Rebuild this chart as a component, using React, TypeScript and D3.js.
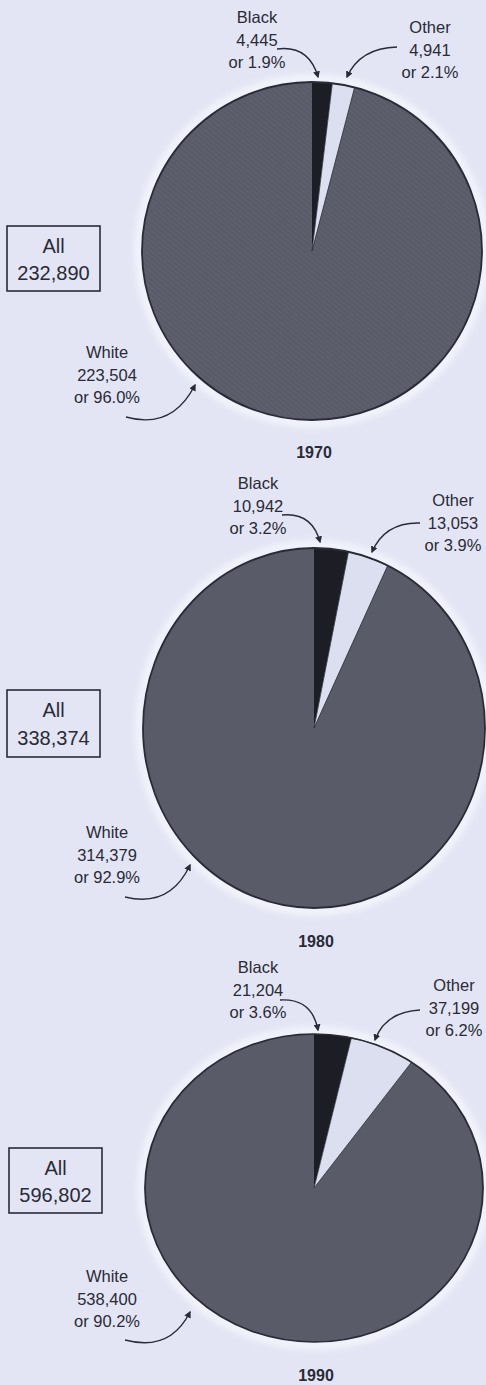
import React from 'react';
import * as d3 from 'd3';

// race of population, three census years
const years = ['1970', '1980', '1990'];
const categories = ['Black', 'Other', 'White'];
const totals = [232890, 338374, 596802];
const blackCounts = [4445, 10942, 21204];
const otherCounts = [4941, 13053, 37199];
const whiteCounts = [223504, 314379, 538400];
const blackPct = ['1.9', '3.2', '3.6'];
const otherPct = ['2.1', '3.9', '6.2'];
const whitePct = ['96.0', '92.9', '90.2'];

const W = 486;
const H = 1385;
const BG = '#e3e5f4';
const INK = '#2a2b37';
const sliceColors = ['#1d1d26', '#dcdfef', '#5a5b69'];

type Pt = [number, number];
interface PieLayout {
  cx: number; cy: number; rx: number; ry: number;
  box: { x: number; y: number; w: number; h: number };
  yearY: number;
  labels: { x: number; y: number }[];
  arrows: [Pt, Pt, Pt][];
}

const layouts: PieLayout[] = [
  {
    cx: 312, cy: 251, rx: 170, ry: 169,
    box: { x: 7, y: 226, w: 93, h: 65 },
    yearY: 452,
    labels: [{ x: 257, y: 17 }, { x: 430, y: 27 }, { x: 107, y: 352 }],
    arrows: [
      [[277, 49], [309, 45], [318, 77]],
      [[397, 47], [360, 48], [347, 77]],
      [[126, 417], [172, 430], [195, 385]],
    ],
  },
  {
    cx: 314, cy: 728, rx: 171, ry: 180,
    box: { x: 7, y: 690, w: 93, h: 67 },
    yearY: 941,
    labels: [{ x: 258, y: 483 }, { x: 453, y: 500 }, { x: 107, y: 832 }],
    arrows: [
      [[282, 515], [312, 512], [320, 542]],
      [[420, 523], [385, 522], [372, 552]],
      [[125, 897], [170, 908], [190, 865]],
    ],
  },
  {
    cx: 314, cy: 1188, rx: 169, ry: 154,
    box: { x: 9, y: 1148, w: 93, h: 65 },
    yearY: 1375,
    labels: [{ x: 258, y: 967 }, { x: 454, y: 985 }, { x: 107, y: 1276 }],
    arrows: [
      [[280, 1000], [312, 998], [318, 1030]],
      [[420, 1010], [385, 1012], [375, 1040]],
      [[125, 1340], [170, 1352], [190, 1312]],
    ],
  },
];

const fmt = d3.format(',');

const arrowPath = (a: [Pt, Pt, Pt]) => {
  const p = d3.path();
  p.moveTo(a[0][0], a[0][1]);
  p.quadraticCurveTo(a[1][0], a[1][1], a[2][0], a[2][1]);
  return p.toString();
};

const Pie = ({ i, l }: { i: number; l: PieLayout }) => {
  const values = [blackCounts[i], otherCounts[i], whiteCounts[i]];
  const pcts = [blackPct[i], otherPct[i], whitePct[i]];
  const arcs = d3.pie<number>().sort(null)(values);
  const arc = d3.arc<d3.PieArcDatum<number>>().innerRadius(0).outerRadius(l.rx);
  const sy = l.ry / l.rx;
  const lineH = 22.5;

  return (
    <g>
      {/* pale halo around the disc, as in the print */}
      <ellipse cx={l.cx} cy={l.cy} rx={l.rx + 3} ry={l.ry + 3} fill="none"
        stroke="#f3f4fc" strokeWidth={9} filter="url(#blur)" />
      <g transform={`translate(${l.cx},${l.cy}) scale(1,${sy})`}>
        {arcs.map((d, k) => (
          <path key={k} d={arc(d) || ''} fill={sliceColors[k]} />
        ))}
        {i === 0 && <path d={arc(arcs[2]) || ''} fill="url(#hatch)" />}
        <circle r={l.rx} fill="none" stroke={INK} strokeWidth={1.8} />
        <path d={arc(arcs[1]) || ''} fill="none" stroke={INK} strokeWidth={0.8} />
      </g>

      {l.labels.map((p, k) => (
        <text key={k} x={p.x} textAnchor="middle" fontSize={16.5} fill={INK}>
          <tspan x={p.x} y={p.y + 6}>{categories[k]}</tspan>
          <tspan x={p.x} y={p.y + 6 + lineH}>{fmt(values[k])}</tspan>
          <tspan x={p.x} y={p.y + 6 + lineH * 2}>{`or ${pcts[k]}%`}</tspan>
        </text>
      ))}
      {l.arrows.map((a, k) => (
        <path key={k} d={arrowPath(a)} fill="none" stroke={INK} strokeWidth={1.4}
          markerEnd="url(#head)" />
      ))}

      <rect x={l.box.x} y={l.box.y} width={l.box.w} height={l.box.h}
        fill="none" stroke={INK} strokeWidth={1.6} />
      <text x={l.box.x + l.box.w / 2} textAnchor="middle" fontSize={20} fill={INK}>
        <tspan x={l.box.x + l.box.w / 2} y={l.box.y + l.box.h * 0.3 + 7}>All</tspan>
        <tspan x={l.box.x + l.box.w / 2} y={l.box.y + l.box.h * 0.72 + 7}>{fmt(totals[i])}</tspan>
      </text>

      <text x={l.cx + 2} y={l.yearY + 6} textAnchor="middle" fontSize={16}
        fontWeight="bold" fill={INK}>{years[i]}</text>
    </g>
  );
};

export default function App() {
  return (
    <svg width={W} height={H} viewBox={`0 0 ${W} ${H}`}
      style={{ position: 'absolute', left: 0, top: 0, display: 'block' }}
      fontFamily="'Liberation Sans', Arial, sans-serif">
      <defs>
        <filter id="blur" x="-10%" y="-10%" width="120%" height="120%">
          <feGaussianBlur stdDeviation={3} />
        </filter>
        <pattern id="hatch" width={4} height={4} patternUnits="userSpaceOnUse"
          patternTransform="rotate(-50)">
          <line x1={0} y1={0} x2={0} y2={4} stroke="#7c7d8b" strokeWidth={0.8} opacity={0.45} />
        </pattern>
        <marker id="head" viewBox="0 0 10 10" refX={8} refY={5} markerWidth={7}
          markerHeight={7} orient="auto" markerUnits="userSpaceOnUse">
          <path d="M0,0 L10,5 L0,10 Z" fill={INK} />
        </marker>
      </defs>
      <rect width={W} height={H} fill={BG} />
      {layouts.map((l, i) => <Pie key={years[i]} i={i} l={l} />)}
    </svg>
  );
}
